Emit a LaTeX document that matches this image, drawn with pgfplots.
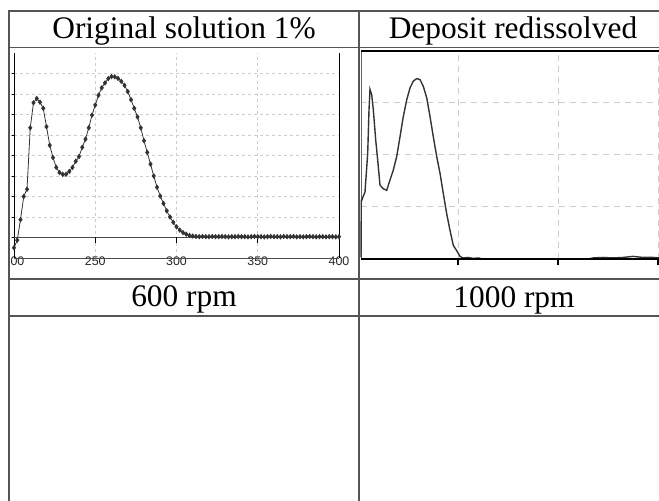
\documentclass[border=0pt]{standalone}
\usepackage{pgfplots}
\pgfplotsset{compat=1.18}
\usepackage{fontspec}
\setmainfont{Liberation Serif}
\newfontfamily\tickfont{Liberation Sans}
\definecolor{tbl}{HTML}{555555}
\definecolor{gridc}{HTML}{CCCCCC}
\definecolor{curve}{HTML}{333333}

\pgfplotstableread{
x y
200 -0.50
202 -0.13
204 0.87
206 2.00
208 2.35
210 5.35
212 6.57
214 6.78
216 6.60
218 6.30
220 5.40
222 4.50
224 3.90
226 3.42
228 3.17
230 3.08
232 3.08
234 3.22
236 3.42
238 3.72
240 3.95
242 4.40
244 4.80
246 5.35
248 5.97
250 6.46
252 6.94
254 7.30
256 7.54
258 7.75
260 7.85
262 7.84
264 7.76
266 7.62
268 7.42
270 7.12
272 6.72
274 6.30
276 5.88
278 5.35
280 4.72
282 4.15
284 3.58
286 3.00
288 2.45
290 2.02
292 1.66
294 1.30
296 1.00
298 0.74
300 0.52
302 0.36
304 0.24
306 0.16
308 0.10
310 0.07
312 0.05
314 0.04
316 0.05
318 0.04
320 0.04
322 0.05
324 0.04
326 0.04
328 0.05
330 0.04
332 0.03
334 0.04
336 0.04
338 0.05
340 0.04
342 0.04
344 0.03
346 0.04
348 0.05
350 0.04
352 0.04
354 0.03
356 0.04
358 0.05
360 0.04
362 0.04
364 0.03
366 0.05
368 0.04
370 0.04
372 0.05
374 0.03
376 0.04
378 0.03
380 0.04
382 0.05
384 0.04
386 0.03
388 0.04
390 0.04
392 0.03
394 0.04
396 0.04
398 0.03
400 0.04
}\orig

\pgfplotstableread{
x y
203 0.03
203.3 1.13
203.7 1.13
207 1.29
209.7 2.03
211 2.87
212 3.26
213.7 3.16
215.3 2.87
217.7 2.29
219.7 1.90
222 1.42
225.3 1.35
228.7 1.32
232 1.52
235.3 1.71
238.7 1.97
242 2.35
245.3 2.74
248.7 3.06
252 3.29
255.3 3.42
258.7 3.47
262 3.45
265.3 3.32
268.7 3.10
272 2.74
275.3 2.35
278.7 1.97
282 1.65
285.3 1.26
288.7 0.87
292 0.55
295.3 0.26
298.7 0.16
302 0.05
305 0.02
310 0.03
315 0.01
320 0.02
325 0.00
430 0.00
435 0.02
445 0.03
455 0.02
465 0.03
475 0.05
485 0.03
495 0.03
502 0.02
}\depo

\begin{document}
\begin{tikzpicture}[x=1bp,y=1bp]
\useasboundingbox (0,0) rectangle (659,501);

% ---------- left plot ----------
\begin{scope}
\clip (11.5bp,223bp) rectangle (357bp,452bp);
\begin{axis}[
  at={(14bp,243bp)}, anchor=south west,
  scale only axis, width=325bp, height=205bp,
  xmin=200, xmax=400, ymin=-1, ymax=9,
  axis line style={draw=none},
  xtick={200,250,300,350,400},
  ytick={0,1,...,8},
  yticklabels={},
  xtick style={draw=none},
  ytick style={black, line width=0.6bp},
  tick align=outside, major tick length=3bp,
  ytick pos=left,
  grid=major,
  major grid style={gridc, dash pattern=on 3bp off 3bp, line width=0.6bp},
  /pgf/number format/assume math mode=true,
  xticklabel style={font=\tickfont\fontsize{12.5}{12.5}\selectfont, anchor=center, text=black!85, inner sep=0pt},
  xtick pos=left,
  clip=false,
]
\draw[black, line width=0.7bp] (rel axis cs:0,0) -- (rel axis cs:0,1);
\draw[black, line width=0.7bp] (rel axis cs:1,0) -- (rel axis cs:1,1);
\draw[black!70, line width=0.8bp] (rel axis cs:0,0) -- (rel axis cs:1,0);
\addplot[black!70, line width=0.9bp, mark=none] coordinates {(200,0) (400,0)};
\draw[black, line width=0.7bp] (axis cs:250,0) -- (axis cs:250,-0.25);
\draw[black, line width=0.7bp] (axis cs:300,0) -- (axis cs:300,-0.25);
\draw[black, line width=0.7bp] (axis cs:350,0) -- (axis cs:350,-0.25);
\addplot[curve, line width=0.8bp, mark=diamond*, mark size=2.1bp, mark options={fill=curve, draw=curve}] table[x=x,y=y] {\orig};
\end{axis}
\end{scope}

% ---------- right plot ----------
\begin{scope}
\clip (360bp,223bp) rectangle (659bp,452bp);
\begin{axis}[
  at={(361bp,242bp)}, anchor=south west,
  scale only axis, width=299bp, height=208bp,
  xmin=203, xmax=502, ymin=0, ymax=4,
  axis line style={draw=none},
  xtick={300,400,500},
  ytick={1,2,3},
  xticklabels={}, yticklabels={},
  ytick style={draw=none},
  xtick style={black, line width=1.4bp},
  tick align=outside, major tick length=6bp,
  xtick pos=left,
  grid=major,
  major grid style={gridc, dash pattern=on 6bp off 5bp, line width=1bp},
  clip=false,
]
\draw[black!60, line width=0.8bp] (rel axis cs:0,0) -- (rel axis cs:0,1);
\draw[black, line width=2bp] (rel axis cs:0,1) -- (rel axis cs:1,1);
\addplot[black!80, line width=1.4bp, mark=none] table[x=x,y=y] {\depo};
\draw[black, line width=1.8bp] (rel axis cs:0,0) -- (rel axis cs:1,0);
\end{axis}
\end{scope}

% ---------- table rules ----------
\begin{scope}[tbl, line width=1.4bp]
\draw (9,490) -- (659,490);
\draw (9,453.5) -- (659,453.5);
\draw (9,222) -- (659,222);
\draw (9,185) -- (659,185);
\draw (9,490.7) -- (9,0);
\draw (359,490.7) -- (359,0);
\end{scope}

% ---------- cell texts ----------
\begin{scope}[font=\fontsize{31.5}{36}\selectfont]
\node[anchor=base, inner sep=0pt] at (184,462) {Original solution 1\%};
\node[anchor=base, inner sep=0pt] at (513,462.5) {Deposit redissolved};
\node[anchor=base, inner sep=0pt] at (184,194) {600 rpm};
\node[anchor=base, inner sep=0pt] at (514,193.5) {1000 rpm};
\end{scope}
\end{tikzpicture}
\end{document}
